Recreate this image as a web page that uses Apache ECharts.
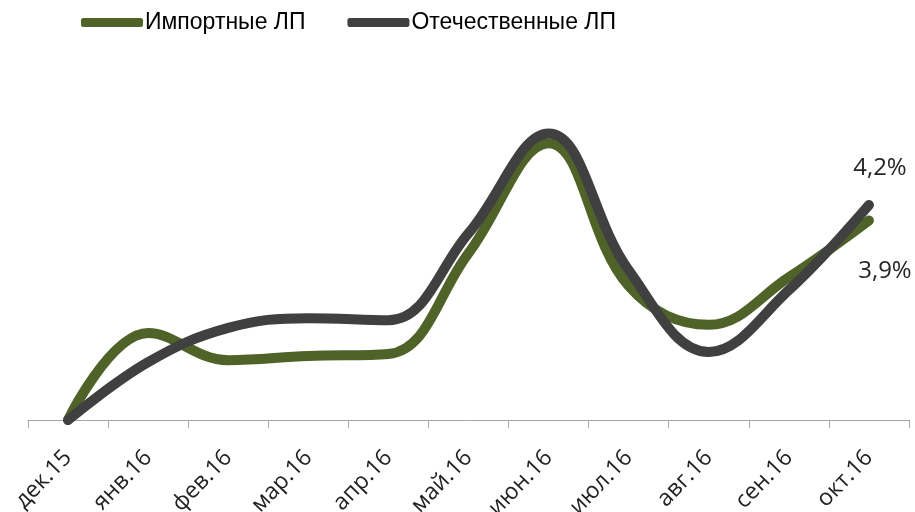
<!DOCTYPE html>
<html>
<head>
<meta charset="utf-8">
<script src="https://cdn.jsdelivr.net/npm/echarts@6/dist/echarts.min.js"></script>
<style>
  html, body { margin: 0; padding: 0; background: #fff; }
  #chart { width: 915px; height: 512px; }
</style>
</head>
<body>
<div id="chart"></div>
<script>
// месяцы
var months = ['дек.15', 'янв.16', 'фев.16', 'мар.16', 'апр.16', 'май.16', 'июн.16', 'июл.16', 'авг.16', 'сен.16', 'окт.16']
// прирост цен, %
var importVals = [0, 1.70, 1.17, 1.25, 1.29, 3.26, 5.41, 2.62, 1.86, 2.79, 3.9]
var domesticVals = [0, 1.13, 1.80, 1.99, 1.95, 3.65, 5.60, 2.93, 1.33, 2.54, 4.2]
var seriesNames = ['Импортные ЛП', 'Отечественные ЛП']

function pctLabel (p) {
  return String(p.value).replace('.', ',') + '%'
}

var chart = echarts.init(document.getElementById('chart'))
chart.setOption({
  animation: false,
  legend: {
    top: 6,
    left: 76,
    itemWidth: 62,
    itemHeight: 9,
    itemGap: 42,
    icon: 'roundRect',
    textStyle: { fontSize: 23, color: '#000', fontFamily: 'Liberation Sans', padding: [0, 0, 0, -3] },
    data: seriesNames
  },
  grid: { left: 28, right: 6, top: 113, bottom: 92, outerBoundsMode: 'none', containLabel: false },
  xAxis: {
    type: 'category',
    data: months,
    boundaryGap: true,
    axisLine: { lineStyle: { color: '#a6a6a6', width: 1 } },
    axisTick: { show: true, length: 8, lineStyle: { color: '#a6a6a6' } },
    axisLabel: { rotate: 46, fontSize: 23, color: '#222', margin: 34, fontFamily: 'Open Sans' }
  },
  yAxis: {
    type: 'value',
    min: 0,
    max: 6,
    show: false,
    splitLine: { show: false }
  },
  series: [
    {
      name: seriesNames[0],
      type: 'line',
      smooth: 0.4,
      symbol: 'none',
      clip: false,
      color: '#4f6228',
      lineStyle: { width: 10, color: '#4f6228', cap: 'round', join: 'round' },
      endLabel: {
        show: true,
        formatter: pctLabel,
        distance: 0,
        align: 'center',
        verticalAlign: 'middle',
        offset: [16, 51],
        color: '#262626',
        fontSize: 24,
        fontFamily: 'Open Sans'
      },
      data: importVals
    },
    {
      name: seriesNames[1],
      type: 'line',
      smooth: 0.4,
      symbol: 'none',
      clip: false,
      color: '#404040',
      lineStyle: { width: 10, color: '#404040', cap: 'round', join: 'round' },
      endLabel: {
        show: true,
        formatter: pctLabel,
        distance: 0,
        align: 'center',
        verticalAlign: 'middle',
        offset: [11, -37],
        color: '#262626',
        fontSize: 24,
        fontFamily: 'Open Sans'
      },
      data: domesticVals
    }
  ]
})
</script>
</body>
</html>
